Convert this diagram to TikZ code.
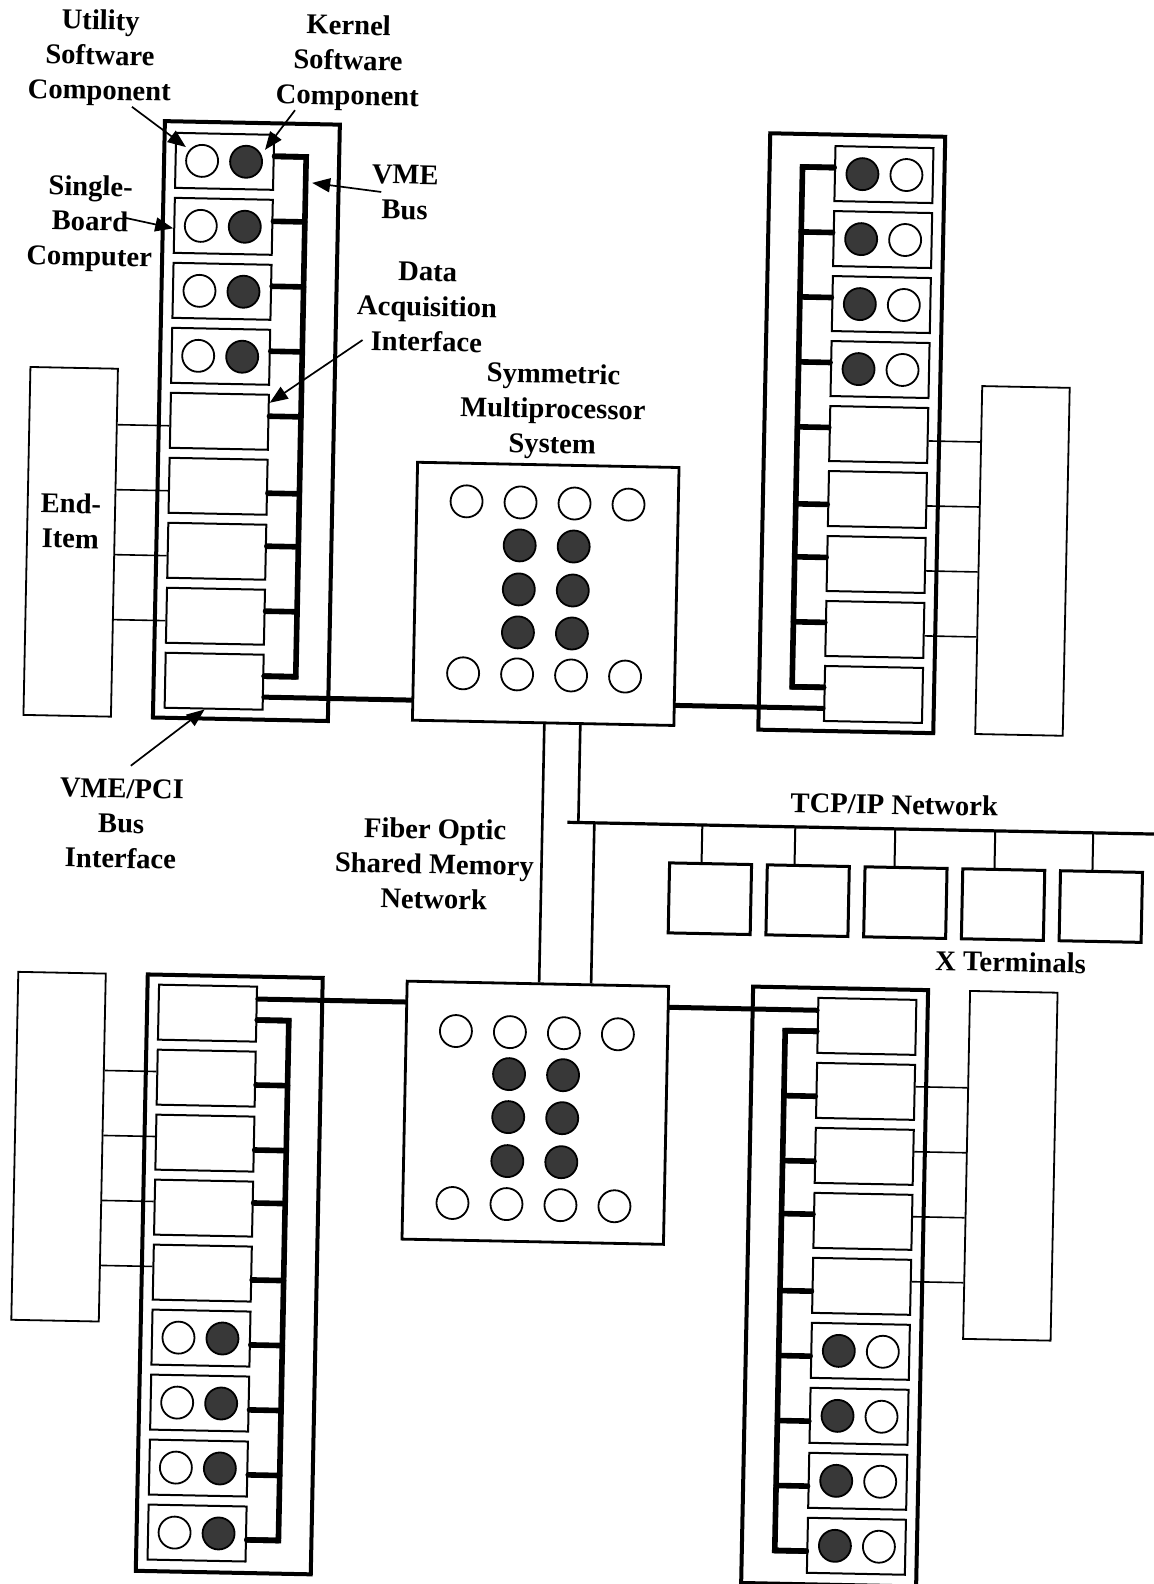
\documentclass[tikz,border=0pt]{standalone}
\usepackage{fontspec}
\setmainfont{Liberation Serif}
\usetikzlibrary{arrows.meta,calc}
\begin{document}
\begin{tikzpicture}[x=0.5pt,y=-0.5pt,
  lbl/.style={font=\bfseries\fontsize{14.3}{17.5}\selectfont, align=center, inner sep=0pt},
  rackbox/.style={draw, line width=2pt, minimum width=87.5pt, minimum height=298.25pt, inner sep=0pt},
  card/.style={draw, line width=1pt, minimum width=49pt, minimum height=27.5pt, inner sep=0pt},
  ucomp/.style={circle, draw, line width=0.9pt, minimum size=16pt, inner sep=0pt},
  kcomp/.style={ucomp, fill=black!78},
  enditem/.style={draw, line width=0.9pt, minimum width=43.75pt, minimum height=174pt, inner sep=0pt},
  smpbox/.style={draw, line width=1.4pt, minimum width=130.75pt, minimum height=129pt, inner sep=0pt},
  xterm/.style={draw, line width=1.5pt, minimum width=41pt, minimum height=35pt, inner sep=0pt},
  busline/.style={line width=2.8pt, line join=miter, line cap=round},
  stub/.style={line width=2.8pt, line cap=round},
  smplink/.style={line width=2.5pt, line cap=round},
  wire/.style={line width=0.8pt},
  fiber/.style={line width=1.3pt},
  lan/.style={line width=1.6pt},
  drop/.style={line width=1pt},
  callout/.style={line width=0.85pt, -{Triangle[length=9pt,width=7pt]}},
]
\useasboundingbox (0,0) rectangle (1153,1584);
\begin{scope}[rotate around={-1.15:(576,792)}, transform shape]

% ---------- symmetric multiprocessor systems ----------
\node[smpbox] (smpT) at (541.75,594.5) {};
\foreach \x [count=\k] in {460.75,514.75,568.75,622.75} {
  \node[ucomp] (smpTa\k) at (\x,503.6) {};
  \node[ucomp] (smpTb\k) at (\x,675.6) {};
}
\foreach \y [count=\k] in {546.6,590.6,633.6} {
  \node[kcomp] (smpTk\k) at (514.75,\y) {};
  \node[kcomp] (smpTm\k) at (568.75,\y) {};
}
\node[smpbox] (smpB) at (541.75,1113.5) {};
\foreach \x [count=\k] in {460.75,514.75,568.75,622.75} {
  \node[ucomp] (smpBa\k) at (\x,1033.4) {};
  \node[ucomp] (smpBb\k) at (\x,1205.4) {};
}
\foreach \y [count=\k] in {1075.4,1118.4,1162.4} {
  \node[kcomp] (smpBk\k) at (514.75,\y) {};
  \node[kcomp] (smpBm\k) at (568.75,\y) {};
}

% ---------- top-left rack ----------
\node[rackbox] (tlrack) at (239,427.75) {};
\foreach \i in {1,...,9} \node[card] (tl\i) at (212,{168.5+65*(\i-1)}) {};
\foreach \i in {1,...,4} {
  \node[ucomp] (tlu\i) at (189.5,{168.5+65*(\i-1)}) {};
  \node[kcomp] (tlk\i) at (233.5,{168.5+65*(\i-1)}) {};
}
\coordinate (tlbus) at (293.5,0);
\foreach \i/\dy in {1/-6,2/-6,3/-6,4/-6,5/-6,6/6,7/-6,8/-6,9/-6} {
  \path ($(tl\i.east)+(0,\dy)$) coordinate (tls\i);
  \draw[stub] (tls\i) -- (tls\i -| tlbus);
}
\draw[busline] (tls1) -- (tls1 -| tlbus) -- (tls9 -| tlbus) -- (tls9);
\path ($(tl9.east)+(0,15)$) coordinate (tll);
\draw[smplink] (tll) -- (tll -| smpT.west);
\node[enditem] (eitl) at (65.75,552) {};
\foreach \i in {5,...,8} {
  \path ($(tl\i.west)+(0,5.5)$) coordinate (tlw\i);
  \draw[wire] (tlw\i) -- (tlw\i -| eitl.east);
}

% ---------- top-right rack ----------
\node[rackbox] (trrack) at (844.5,427.75) {};
\foreach \i in {1,...,9} \node[card] (tr\i) at (871.5,{168.5+65*(\i-1)}) {};
\foreach \i in {1,...,4} {
  \node[kcomp] (trk\i) at (850,{168.5+65*(\i-1)}) {};
  \node[ucomp] (tru\i) at (894,{168.5+65*(\i-1)}) {};
}
\coordinate (trbus) at (790,0);
\foreach \i/\dy in {1/-6,2/-6,3/-6,4/-6,5/-6,6/6,7/-6,8/-6,9/-6} {
  \path ($(tr\i.west)+(0,\dy)$) coordinate (trs\i);
  \draw[stub] (trs\i) -- (trs\i -| trbus);
}
\draw[busline] (trs1) -- (trs1 -| trbus) -- (trs9 -| trbus) -- (trs9);
\path ($(tr9.west)+(0,15)$) coordinate (trl);
\draw[smplink] (trl) -- (trl -| smpT.east);
\node[enditem] (eitr) at (1017.75,552) {};
\foreach \i in {5,...,8} {
  \path ($(tr\i.east)+(0,5.5)$) coordinate (trw\i);
  \draw[wire] (trw\i) -- (trw\i -| eitr.west);
}

% ---------- bottom-left rack ----------
\node[rackbox] (blrack) at (239,1281.25) {};
\foreach \i in {1,...,9} \node[card] (bl\i) at (212,{1020.5+65*(\i-1)}) {};
\foreach \i in {6,...,9} {
  \node[ucomp] (blu\i) at (189.5,{1020.5+65*(\i-1)}) {};
  \node[kcomp] (blk\i) at (233.5,{1020.5+65*(\i-1)}) {};
}
\coordinate (blbus) at (293.5,0);
\foreach \i/\dy in {1/6,2/6,3/6,4/-6,5/6,6/6,7/6,8/6,9/6} {
  \path ($(bl\i.east)+(0,\dy)$) coordinate (bls\i);
  \draw[stub] (bls\i) -- (bls\i -| blbus);
}
\draw[busline] (bls1) -- (bls1 -| blbus) -- (bls9 -| blbus) -- (bls9);
\path ($(bl1.east)+(0,-15)$) coordinate (bll);
\draw[smplink] (bll) -- (bll -| smpB.west);
\node[enditem] (eibl) at (65.75,1157) {};
\foreach \i in {2,...,5} {
  \path ($(bl\i.west)+(0,-5.5)$) coordinate (blw\i);
  \draw[wire] (blw\i) -- (blw\i -| eibl.east);
}

% ---------- bottom-right rack ----------
\node[rackbox] (brrack) at (844.5,1281.25) {};
\foreach \i in {1,...,9} \node[card] (br\i) at (871.5,{1020.5+65*(\i-1)}) {};
\foreach \i in {6,...,9} {
  \node[kcomp] (brk\i) at (850,{1020.5+65*(\i-1)}) {};
  \node[ucomp] (bru\i) at (894,{1020.5+65*(\i-1)}) {};
}
\coordinate (brbus) at (790,0);
\foreach \i/\dy in {1/6,2/6,3/6,4/-6,5/6,6/6,7/6,8/6,9/6} {
  \path ($(br\i.west)+(0,\dy)$) coordinate (brs\i);
  \draw[stub] (brs\i) -- (brs\i -| brbus);
}
\draw[busline] (brs1) -- (brs1 -| brbus) -- (brs9 -| brbus) -- (brs9);
\path ($(br1.west)+(0,-15)$) coordinate (brl);
\draw[smplink] (brl) -- (brl -| smpB.east);
\node[enditem] (eibr) at (1017.75,1157) {};
\foreach \i in {2,...,5} {
  \path ($(br\i.east)+(0,-5.5)$) coordinate (brw\i);
  \draw[wire] (brw\i) -- (brw\i -| eibr.west);
}

% ---------- fiber optic network and TCP/IP ----------
\coordinate (lanL) at (568,822.5);
\coordinate (lanR) at (1170,822.5);
\draw[lan] (lanL) -- (lanR);
\coordinate (f1) at (543,0);
\coordinate (f2) at (579,0);
\coordinate (f3) at (595,0);
\draw[fiber] (smpT.south -| f1) -- (smpB.north -| f1);
\draw[fiber] (smpT.south -| f2) -- (lanL -| f2);
\draw[fiber] (lanL -| f3) -- (smpB.north -| f3);
\foreach \x/\d [count=\k] in {712/703,809.75/796,907.5/896,1005.25/996,1103/1094} {
  \node[xterm] (xt\k) at (\x,896) {};
  \coordinate (xd\k) at (\d,822.5);
  \draw[drop] (xd\k) -- (xd\k |- xt\k.north);
}

% ---------- labels ----------
\node[lbl] (lblU) at (85.3,67.5) {Utility\\Software\\Component};
\node[lbl] (lblK) at (333.4,67.6) {Kernel\\Software\\Component};
\node[lbl] (lblS) at (78.6,233.7) {Single-\\Board\\Computer};
\node[lbl] (lblV) at (393,196) {VME\\Bus};
\node[lbl] (lblD) at (417.3,310) {Data\\Acquisition\\Interface};
\node[lbl] (lblM) at (545.2,411.8) {Symmetric\\Multiprocessor\\System};
\node[lbl] (lblE) at (65.3,531) {End-\\Item};
\node[lbl] (lblP) at (121.9,832.7) {VME/PCI\\Bus\\Interface};
\node[lbl] (lblF) at (435.9,866.8) {Fiber Optic\\Shared Memory\\Network};
\node[lbl] (lblT) at (894.5,798) {TCP/IP Network};
\node[lbl] (lblX) at (1013.9,953.3) {X Terminals};

% ---------- callout arrows ----------
\coordinate (tlbusV) at (300,188.3);
\draw[callout] ([xshift=16.5pt]lblU.south) -- ([xshift=5.5pt,yshift=-7.5pt]tl1.north west);
\draw[callout] ([xshift=-26pt]lblK.south) -- ([xshift=9.35pt,yshift=6.15pt]tlk1.center);
\draw[callout] ([xshift=-13.75pt,yshift=3.3pt]lblS.east) -- ([yshift=-1.5pt]tl2.west);
\draw[callout] ([xshift=5pt]lblV.west) -- (tlbusV);
\draw[callout] ([xshift=3.3pt,yshift=5.25pt]lblD.south west) -- ([yshift=-4.5pt]tl5.north east);
\draw[callout] ([xshift=4.25pt,yshift=6.5pt]lblP.north) -- ([xshift=-4.5pt]tl9.south);

\end{scope}
\end{tikzpicture}
\end{document}
